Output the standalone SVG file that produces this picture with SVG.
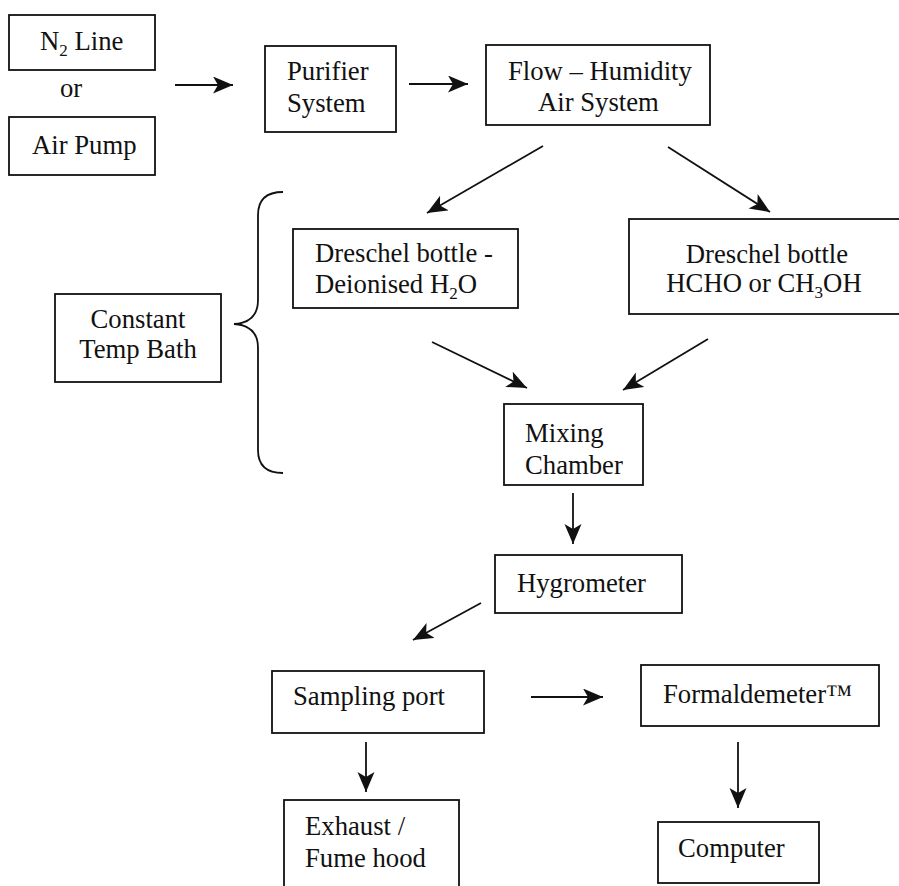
<svg xmlns="http://www.w3.org/2000/svg" width="899" height="886" viewBox="0 0 899 886">
<style>
.box{fill:#fff;stroke:#111;stroke-width:1.8}
.t{font-family:"Liberation Serif","Times New Roman",serif;font-size:26.7px;fill:#111}
.c{text-anchor:middle}
.sub{font-size:17px}
.ln{stroke:#111;stroke-width:1.8;fill:none}
</style>
<defs>
<marker id="ah" markerUnits="userSpaceOnUse" markerWidth="22" markerHeight="18" refX="20" refY="8.5" orient="auto">
<path d="M0,0 L20,8.5 L0,17 L5,8.5 Z" fill="#111"/>
</marker>
</defs>
<rect width="899" height="886" fill="#fff"/>

<g id="n2line"><rect class="box" x="9" y="15" width="146" height="55"/><text class="t" x="40" y="50">N<tspan class="sub" dy="6">2</tspan><tspan dy="-6"> Line</tspan></text></g>
<g id="or"><text class="t" x="60" y="97">or</text></g>
<g id="airpump"><rect class="box" x="9" y="117" width="146" height="58"/><text class="t" x="32" y="154">Air Pump</text></g>
<g id="purifier"><rect class="box" x="265" y="46" width="131" height="86"/><text class="t" x="287" y="80">Purifier</text><text class="t" x="287" y="112">System</text></g>
<g id="flow"><rect class="box" x="486" y="45" width="224" height="80"/><text class="t" x="508" y="80">Flow – Humidity</text><text class="t" x="538" y="111">Air System</text></g>
<g id="dreschel-h2o"><rect class="box" x="293" y="229" width="225" height="79"/><text class="t" x="315" y="262">Dreschel bottle -</text><text class="t" x="315" y="293">Deionised H<tspan class="sub" dy="6">2</tspan><tspan dy="-6">O</tspan></text></g>
<g id="dreschel-hcho"><rect class="box" x="629" y="219" width="280" height="95"/><text class="t c" x="767" y="263">Dreschel bottle</text><text class="t c" x="764" y="292">HCHO or CH<tspan class="sub" dy="6">3</tspan><tspan dy="-6">OH</tspan></text></g>
<g id="bath"><rect class="box" x="55" y="294" width="166" height="88"/><text class="t c" x="138" y="328">Constant</text><text class="t c" x="138" y="358">Temp Bath</text></g>
<g id="mixing"><rect class="box" x="504" y="404" width="139" height="81"/><text class="t" x="525" y="442">Mixing</text><text class="t" x="525" y="474">Chamber</text></g>
<g id="hygrometer"><rect class="box" x="495" y="555" width="187" height="58"/><text class="t" x="517" y="592">Hygrometer</text></g>
<g id="sampling"><rect class="box" x="272" y="671" width="212" height="62"/><text class="t" x="293" y="705">Sampling port</text></g>
<g id="formaldemeter"><rect class="box" x="641" y="665" width="238" height="61"/><text class="t" x="663" y="703">Formaldemeter™</text></g>
<g id="exhaust"><rect class="box" x="284" y="800" width="175" height="100"/><text class="t" x="305" y="835">Exhaust /</text><text class="t" x="305" y="867">Fume hood</text></g>
<g id="computer"><rect class="box" x="658" y="822" width="161" height="61"/><text class="t" x="678" y="857">Computer</text></g>

<g id="connectors">
<line class="ln" x1="175" y1="85" x2="233" y2="85" marker-end="url(#ah)"/>
<line class="ln" x1="409" y1="84" x2="468" y2="84" marker-end="url(#ah)"/>
<line class="ln" x1="543" y1="146" x2="427" y2="213" marker-end="url(#ah)"/>
<line class="ln" x1="668" y1="147" x2="770" y2="212" marker-end="url(#ah)"/>
<line class="ln" x1="432" y1="342" x2="527" y2="388" marker-end="url(#ah)"/>
<line class="ln" x1="708" y1="339" x2="623" y2="390" marker-end="url(#ah)"/>
<line class="ln" x1="573" y1="493" x2="573" y2="544" marker-end="url(#ah)"/>
<line class="ln" x1="481" y1="603" x2="413" y2="640" marker-end="url(#ah)"/>
<line class="ln" x1="531" y1="697" x2="603" y2="697" marker-end="url(#ah)"/>
<line class="ln" x1="366" y1="742" x2="366" y2="792" marker-end="url(#ah)"/>
<line class="ln" x1="738" y1="742" x2="738" y2="808" marker-end="url(#ah)"/>
<path class="ln" d="M283,192 C266,192 258,200 258,215 L258,300 C258,315 250,323 234,324 C250,325 258,333 258,348 L258,450 C258,465 266,473 283,473"/>
</g>
</svg>
